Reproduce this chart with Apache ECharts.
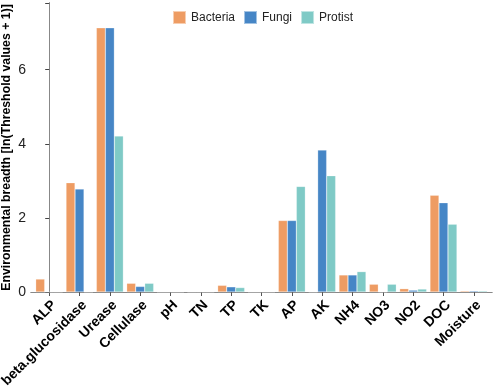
<!DOCTYPE html>
<html>
<head>
<meta charset="utf-8">
<script src="https://cdn.jsdelivr.net/npm/echarts@6/dist/echarts.min.js"></script>
<style>html,body{margin:0;padding:0;background:#fff;}#c{width:496px;height:389px;}</style>
</head>
<body>
<div id="c"></div>
<script>
var categories = ['ALP','beta.glucosidase','Urease','Cellulase','pH','TN','TP','TK','AP','AK','NH4','NO3','NO2','DOC','Moisture'];
var bacteria = [0.35, 2.95, 7.13, 0.235, 0, 0, 0.18, 0, 1.93, 0, 0.46, 0.21, 0.09, 2.61, 0.03];
var fungi    = [0,    2.78, 7.13, 0.15,  0, 0, 0.14, 0, 1.93, 3.83, 0.46, 0, 0.05, 2.41, 0.03];
var protist  = [0,    0,    4.21, 0.235, 0, 0, 0.12, 0, 2.85, 3.14, 0.55, 0.21, 0.08, 1.83, 0.03];
var yTicks = [0, 2, 4, 6];

var FONT = 'Liberation Sans, Arial, sans-serif';
var idx = categories.map(function (c, i) { return i; });
var chart = echarts.init(document.getElementById('c'), null, {renderer: 'canvas'});
function bar(name, data, color) {
  return {
    name: name, type: 'bar', barWidth: 9, barGap: '0%',
    data: data.map(function (v, i) { return [i, v]; }),
    itemStyle: {color: color, borderColor: 'rgba(255,255,255,0.5)', borderWidth: 0.5}
  };
}
chart.setOption({
  animation: false,
  textStyle: {fontFamily: FONT},
  legend: {
    top: 10, left: 172, itemWidth: 13, itemHeight: 13, itemGap: 8,
    icon: 'rect', padding: 0,
    textStyle: {fontSize: 12, color: '#222', fontFamily: FONT},
    data: ['Bacteria', 'Fungi', 'Protist']
  },
  grid: {left: 31, right: 4, top: 3, bottom: 97, containLabel: false, outerBoundsMode: 'none'},
  xAxis: [{
    type: 'value', min: -0.6, max: 14.6,
    splitLine: {show: false},
    axisLine: {show: true, lineStyle: {color: '#888', width: 1}},
    axisTick: {show: true, customValues: idx, length: 4, lineStyle: {color: '#555'}},
    axisLabel: {rotate: 45, customValues: idx, fontSize: 14, fontWeight: 'bold', color: '#000', margin: 6,
      align: 'right', verticalAlign: 'top',
      fontFamily: FONT, showMinLabel: true, showMaxLabel: true,
      formatter: function (v) { return categories[Math.round(v)] || ''; }}
  }, {
    type: 'value', min: -0.6, max: 14.6, position: 'top',
    splitLine: {show: false},
    axisLine: {show: true, lineStyle: {color: '#888', width: 1}},
    axisTick: {show: false}, axisLabel: {show: false}
  }],
  yAxis: [{
    type: 'value', min: 0, max: 7.8, interval: 2,
    name: 'Environmental breadth [ln(Threshold values + 1)]',
    nameLocation: 'middle', nameGap: 18, nameMoveOverlap: false,
    nameTextStyle: {fontSize: 12.3, fontWeight: 'bold', color: '#000', fontFamily: FONT},
    axisLine: {show: true, lineStyle: {color: '#444', width: 1}},
    axisTick: {show: true, length: 4, lineStyle: {color: '#444'}},
    splitLine: {show: false},
    axisLabel: {fontSize: 14, color: '#222', margin: 5,
      formatter: function (v) { return yTicks.indexOf(v) >= 0 ? String(v) : ''; }}
  }, {
    type: 'value', min: 0, max: 7.8, interval: 2, position: 'right',
    axisLine: {show: true, lineStyle: {color: '#888', width: 1}},
    axisTick: {show: false}, axisLabel: {show: false}, splitLine: {show: false}
  }],
  series: [bar('Bacteria', bacteria, '#EE9C63'), bar('Fungi', fungi, '#4686C6'), bar('Protist', protist, '#7FCAC6')]
});
</script>
</body>
</html>
